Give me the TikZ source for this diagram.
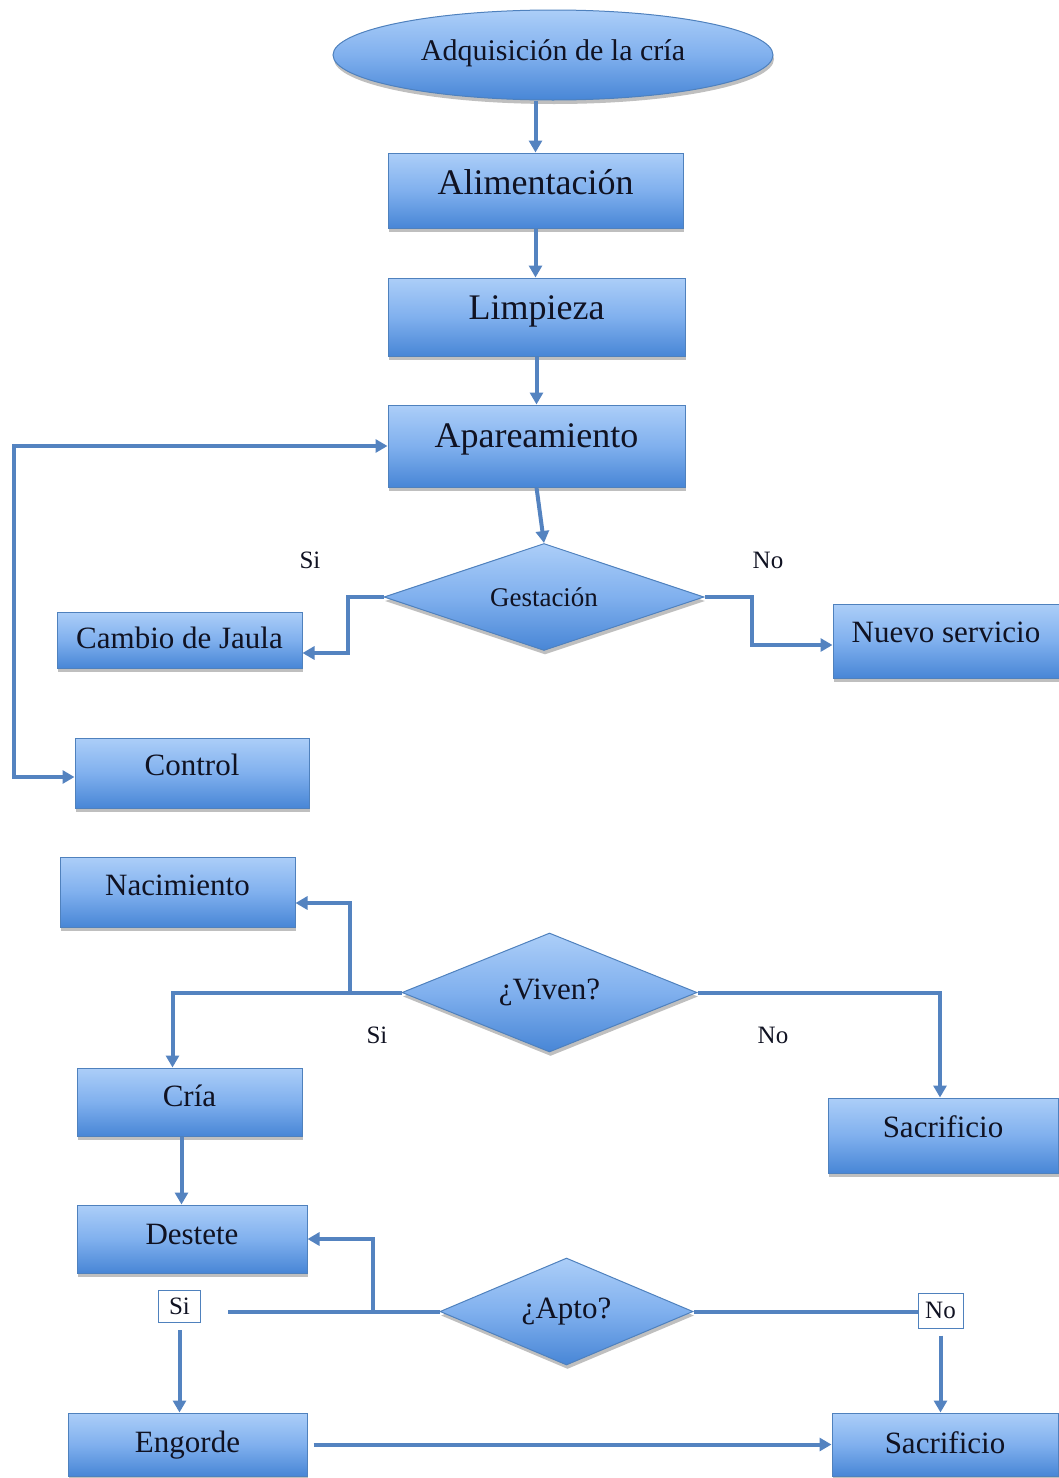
\documentclass[tikz,border=0pt]{standalone}
\usepackage{fontspec}
\setmainfont{Liberation Serif}
\usetikzlibrary{arrows.meta,shapes.geometric,shadows,calc}

\definecolor{boxtop}{RGB}{172,206,248}
\definecolor{boxmid}{RGB}{128,176,238}
\definecolor{boxbot}{RGB}{72,134,214}
\definecolor{boxline}{RGB}{79,129,189}
\definecolor{flow}{RGB}{84,131,192}
\definecolor{ink}{RGB}{16,18,34}

\tikzset{
  shaded/.style={draw=boxline, line width=1pt,
    top color=boxtop, bottom color=boxbot, middle color=boxmid, text=ink,
    drop shadow={shadow xshift=1pt, shadow yshift=-4pt, fill=black, opacity=0.25}},
  stepbox/.style={shaded, rectangle, inner sep=0pt},
  decision/.style={shaded, diamond, inner sep=0pt},
  bigtext/.style={font=\fontsize{36}{40}\selectfont},
  midtext/.style={font=\fontsize{31}{36}\selectfont},
  flowline/.style={draw=flow, line width=4pt},
  arrowline/.style={flowline, -{Triangle[length=12pt,width=13pt]}},
  tag/.style={font=\fontsize{25}{28}\selectfont, text=ink},
  tagbox/.style={tag, draw=boxline, line width=1pt, fill=white, inner sep=1pt}
}

\begin{document}
\begin{tikzpicture}[x=1pt, y=-1pt]
\useasboundingbox (0,0) rectangle (1058,1478);

% start
\node[shaded, ellipse, inner sep=0pt, minimum width=440pt, minimum height=90pt,
      font=\fontsize{30}{34}\selectfont, text height=20pt, text depth=10pt]
      (ell) at (553,55) {Adquisición de la cría};

% main column
\node[stepbox, bigtext, minimum width=295pt, text height=41pt, text depth=34pt]
      (ali) at (535.5,190.5) {Alimentación};
\node[stepbox, bigtext, minimum width=297pt, text height=41pt, text depth=37pt]
      (lim) at (536.5,317) {Limpieza};
\node[stepbox, bigtext, minimum width=297pt, text height=42pt, text depth=40pt]
      (apa) at (536.5,446) {Apareamiento};

% first decision
\node[decision, aspect=3, font=\fontsize{27}{30}\selectfont,
      minimum width=320pt, minimum height=107pt]
      (ges) at (544,597) {Gestación};
\node[stepbox, midtext, minimum width=245pt, text height=36pt, text depth=20pt]
      (cam) at (179.5,640) {Cambio de Jaula};
\node[stepbox, midtext, minimum width=226pt, text height=38pt, text depth=36pt]
      (nue) at (946,641) {Nuevo servicio};
\node[stepbox, midtext, minimum width=234pt, text height=37pt, text depth=33pt]
      (con) at (192,773) {Control};
\node[tag] (gsi) at (310,560) {Si};
\node[tag] (gno) at (768,560) {No};

% second decision
\node[stepbox, midtext, minimum width=235pt, text height=38pt, text depth=32pt]
      (nac) at (177.5,892) {Nacimiento};
\node[decision, aspect=2.5, midtext, minimum width=295pt, minimum height=119pt]
      (viv) at (549.5,992.5) {¿Viven?};
\node[tag] (vsi) at (377,1035) {Si};
\node[tag] (vno) at (773,1035) {No};
\node[stepbox, midtext, minimum width=225pt, text height=38pt, text depth=30pt]
      (cri) at (189.5,1102) {Cría};
\node[stepbox, midtext, minimum width=230pt, text height=39pt, text depth=36pt]
      (sac1) at (943,1135.5) {Sacrificio};
\node[stepbox, midtext, minimum width=230pt, text height=39pt, text depth=29pt]
      (des) at (192,1239) {Destete};

% third decision
\node[decision, aspect=2.4, midtext, minimum width=253pt, minimum height=107pt]
      (apt) at (566.5,1311.5) {¿Apto?};
\node[tagbox, minimum width=42pt, minimum height=32pt] (si) at (179.5,1306.5) {Si};
\node[tagbox, minimum width=45pt, minimum height=35pt] (no) at (940.5,1310.5) {No};
\node[stepbox, midtext, minimum width=239pt, text height=39pt, text depth=24pt]
      (eng) at (187.5,1444.5) {Engorde};
\node[stepbox, midtext, minimum width=226pt, text height=40pt, text depth=23pt]
      (sac2) at (945,1444.5) {Sacrificio};

% connectors
\draw[arrowline] (ali.north |- ell.south) -- (ali.north);
\draw[arrowline] (ali.south) -- (ali.south |- lim.north);
\draw[arrowline] (lim.south) -- (lim.south |- apa.north);
\draw[arrowline] (apa.south) -- (ges.north);

\draw[arrowline] (ges.west) -- ++(-36,0) |- ([yshift=-13pt]cam.east);
\draw[arrowline] (ges.east) -- ++(47,0) |- ([yshift=-4pt]nue.west);

\coordinate (lp) at (14,600);
\draw[flowline, {Triangle[length=12pt,width=13pt]}-{Triangle[length=12pt,width=13pt]}]
      (apa.west) -| (lp) |- ([yshift=-4pt]con.west);

\draw[arrowline] (viv.west) -- ++(-52,0) |- ([yshift=-11pt]nac.east);
\draw[arrowline] (viv.west) -| ([xshift=-17pt]cri.north);
\draw[arrowline] (viv.east) -| ([xshift=-3pt]sac1.north);

\draw[arrowline] ([xshift=-8pt]cri.south) -- ([xshift=-8pt]cri.south |- des.north);

\draw[arrowline] (apt.west) -- ++(-67,0) |- (des.east);
\draw[flowline, shorten >=27pt] (apt.west) -- (apt.west -| si.east);
\draw[arrowline, shorten <=7pt] (si.south) -- (si.south |- eng.north);

\draw[flowline] (apt.east) -- (apt.east -| no.west);
\draw[arrowline, shorten <=7pt] (no.south) -- (no.south |- sac2.north);

\draw[arrowline, shorten <=6pt] (eng.east) -- (sac2.west);
\end{tikzpicture}
\end{document}
